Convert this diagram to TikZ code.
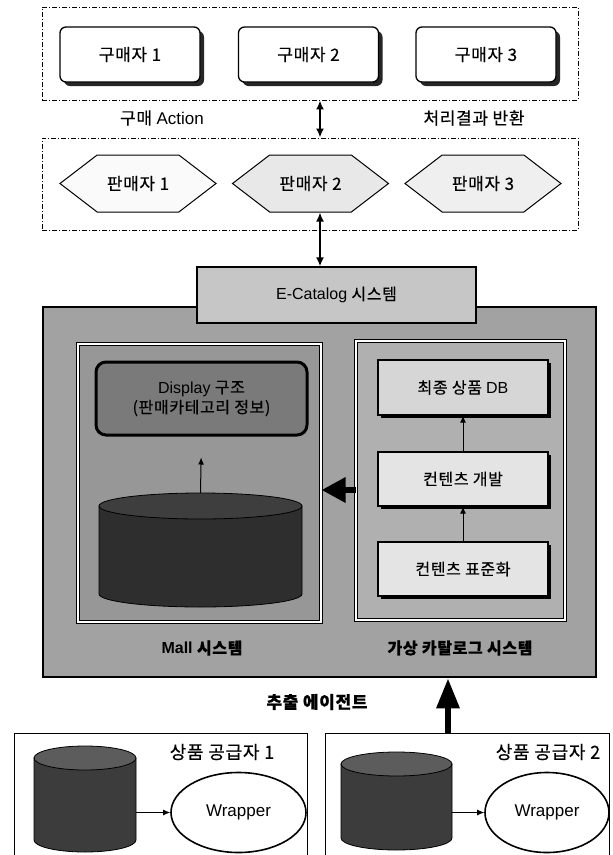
\documentclass[tikz,border=0pt]{standalone}
\usepackage{fontspec}
\setmainfont[LetterSpace=4,FakeBold=0.4]{Noto Sans CJK KR}
\newfontfamily\latinfont{Liberation Sans}
\usetikzlibrary{shapes.symbols,shapes.geometric,arrows.meta,calc,shadows}
\definecolor{mainfill}{HTML}{A2A2A2}
\definecolor{ecatfill}{HTML}{C6C6C6}
\definecolor{mallfill}{HTML}{979797}
\definecolor{dispfill}{HTML}{7A7A7A}
\definecolor{rsysfill}{HTML}{B0B0B0}
\definecolor{rboxfill}{HTML}{E4E4E4}
\definecolor{dbboxfill}{HTML}{D6D6D6}
\definecolor{cylmall}{HTML}{2E2E2E}
\definecolor{cylmalltop}{HTML}{3E3E3E}
\definecolor{cylsup}{HTML}{3C3C3C}
\definecolor{cylsuptop}{HTML}{5C5C5C}
\definecolor{hexa}{HTML}{FAFAFA}
\definecolor{hexb}{HTML}{E8E8E8}
\definecolor{hexc}{HTML}{EFEFEF}
\newcommand\drawcyl[7]{%
  \pgfmathsetmacro\cylrx{(#2-#1)/2}%
  \pgfmathsetmacro\cylcx{(#1+#2)/2}%
  \filldraw[fill=#6,line width=0.8pt] (#1,#3) -- (#1,#4) arc[start angle=180,end angle=0,x radius=\cylrx,y radius=#5] -- (#2,#3) -- cycle;
  \filldraw[fill=#7,line width=0.8pt] (\cylcx,#3) ellipse[x radius=\cylrx,y radius=#5];
}
\begin{document}
\begin{tikzpicture}[x=1pt,y=-1pt,
  font=\fontsize{17}{20}\selectfont,
  dashbox/.style={draw,line width=0.9pt,dash pattern=on 5pt off 2pt on 1pt off 2pt,inner sep=0},
  buyer/.style={draw,line width=1.3pt,rounded corners=6pt,fill=white,minimum width=140pt,minimum height=55pt,
    drop shadow={shadow xshift=4pt,shadow yshift=-4pt,fill=black!85,opacity=1}},
  seller/.style={draw,line width=1pt,signal,signal to=west and east,signal pointer angle=75,minimum width=156pt,minimum height=57pt,inner sep=1pt},
  sysbox/.style={draw,line width=1pt,double,double distance=2pt,inner sep=0},
  rbox/.style={draw,line width=1.2pt,fill=rboxfill,minimum width=170pt,minimum height=54pt,font=\fontsize{16}{19}\selectfont,
    drop shadow={shadow xshift=2.5pt,shadow yshift=-3pt,fill=black,opacity=1}},
  lbl/.style={inner sep=1pt},
  dblarrow/.style={line width=1.8pt,{Latex[length=9pt,width=8pt]}-{Latex[length=9pt,width=8pt]}},
  thinarrow/.style={line width=1pt,-{Latex[length=7pt,width=6pt]}},
  hollow/.style={inner sep=0,minimum width=#1}
]
\useasboundingbox (0,0) rectangle (613,855);
\clip (0,0) rectangle (613,855);
\fill[white] (0,0) rectangle (613,855);

% --- top group: buyers
\node[dashbox,minimum width=536pt,minimum height=93pt] (buyers) at (310,53.5) {};
\node[buyer] (b1) at (130,54.5) {구매자 1};
\node[buyer] (b2) at (308.5,54.5) {구매자 2};
\node[buyer] (b3) at (486,54.5) {구매자 3};
\node[lbl] (lact) at (162,118) {구매 {\latinfont Action}};
\node[lbl] (lret) at (474,118) {처리결과 반환};

% --- sellers
\node[dashbox,minimum width=536pt,minimum height=92pt] (sellers) at (310,184) {};
\node[seller,fill=hexa] (s1) at (138,183.5) {판매자 1};
\node[seller,fill=hexb] (s2) at (310.5,183.5) {판매자 2};
\node[seller,fill=hexc] (s3) at (483,183.5) {판매자 3};

\coordinate (ax) at (320,0);
\draw[dblarrow] (buyers.south -| ax) -- (sellers.north -| ax);

% --- main system
\node[draw,line width=2.5pt,fill=mainfill,minimum width=553pt,minimum height=370pt,inner sep=0] (mainsys) at (319.5,492) {};
\node[draw,line width=1.2pt,fill=ecatfill,minimum width=279pt,minimum height=56pt,font=\fontsize{16}{19}\selectfont] (ecat) at (336.5,295) {{\latinfont E-Catalog} 시스템};
\draw[dblarrow] (s2.south -| ax) -- (ecat.north -| ax);

% Mall system
\node[sysbox,fill=mallfill,minimum width=243pt,minimum height=278pt] (mall) at (199.5,483) {};
\node[draw,line width=3pt,rounded corners=10pt,fill=dispfill,minimum width=211pt,minimum height=73pt,align=center,
  font=\fontsize{16}{20}\selectfont] (disp) at (201.5,398.5) {{\latinfont Display} 구조\\(판매카테고리 정보)};
\node[hollow=203pt,minimum height=114pt] (mdb) at (200.5,550) {};
\drawcyl{99}{302}{506}{594}{13}{cylmall}{cylmalltop}
\draw[thinarrow,shorten >=21pt] (mdb.north) -- (disp.south);

% virtual catalog system
\node[sysbox,fill=rsysfill,minimum width=209pt,minimum height=279pt] (vcat) at (460.5,480.5) {};
\node[rbox,fill=dbboxfill,minimum height=55pt] (fdb) at (463,387.5) {최종 상품 {\latinfont DB}};
\node[rbox] (cdev) at (463,479) {컨텐츠 개발};
\node[rbox] (cstd) at (463,569) {컨텐츠 표준화};
\draw[thinarrow] (cstd.north) -- (cdev.south);
\draw[thinarrow] (cdev.north) -- (fdb.south);

\coordinate (ay) at (0,490);
\draw[line width=6pt,-{Triangle[length=24pt,width=24pt]}] (vcat.west |- ay) -- (mall.east |- ay);

\node[lbl,font=\fontsize{16}{19}\selectfont\bfseries] (lmall) at (202,648) {{\latinfont\bfseries Mall} 시스템};
\node[lbl,font=\fontsize{16}{19}\selectfont\bfseries] (lvcat) at (460,648) {가상 카탈로그 시스템};

% --- suppliers
\node[lbl,font=\fontsize{17}{20}\selectfont\bfseries] (lagent) at (317,702) {추출 에이전트};
\node[draw,line width=1pt,fill=white,minimum width=293pt,minimum height=137pt,inner sep=0] (sup1) at (160.5,801.5) {};
\node[draw,line width=1pt,fill=white,minimum width=284pt,minimum height=137pt,inner sep=0] (sup2) at (467,801.5) {};
\coordinate (bx) at (448,0);
\draw[line width=6pt,-{Triangle[length=30pt,width=22pt]}] (sup2.north -| bx) -- (mainsys.south -| bx);

\node[lbl,font=\fontsize{18}{21}\selectfont] (lsup1) at (222,752) {상품 공급자 1};
\node[lbl,font=\fontsize{18}{21}\selectfont] (lsup2) at (548,752) {상품 공급자 2};

\node[hollow=102pt,minimum height=106pt] (cyl1) at (85,799) {};
\drawcyl{34}{136}{758}{840}{12}{cylsup}{cylsuptop}
\node[hollow=111pt,minimum height=98pt] (cyl2) at (396.5,801) {};
\drawcyl{341}{452}{764}{838}{12}{cylsup}{cylsuptop}

\node[draw,ellipse,line width=1.6pt,fill=white,minimum width=135pt,minimum height=80pt,inner sep=0,font=\latinfont\fontsize{17}{20}\selectfont] (w1) at (238.5,812.5) {Wrapper};
\node[draw,ellipse,line width=1.6pt,fill=white,minimum width=124pt,minimum height=80pt,inner sep=0,font=\latinfont\fontsize{17}{20}\selectfont] (w2) at (547,812.5) {Wrapper};
\draw[thinarrow] (cyl1.east |- w1.west) -- (w1.west);
\draw[thinarrow] (cyl2.east |- w2.west) -- (w2.west);
\end{tikzpicture}
\end{document}
